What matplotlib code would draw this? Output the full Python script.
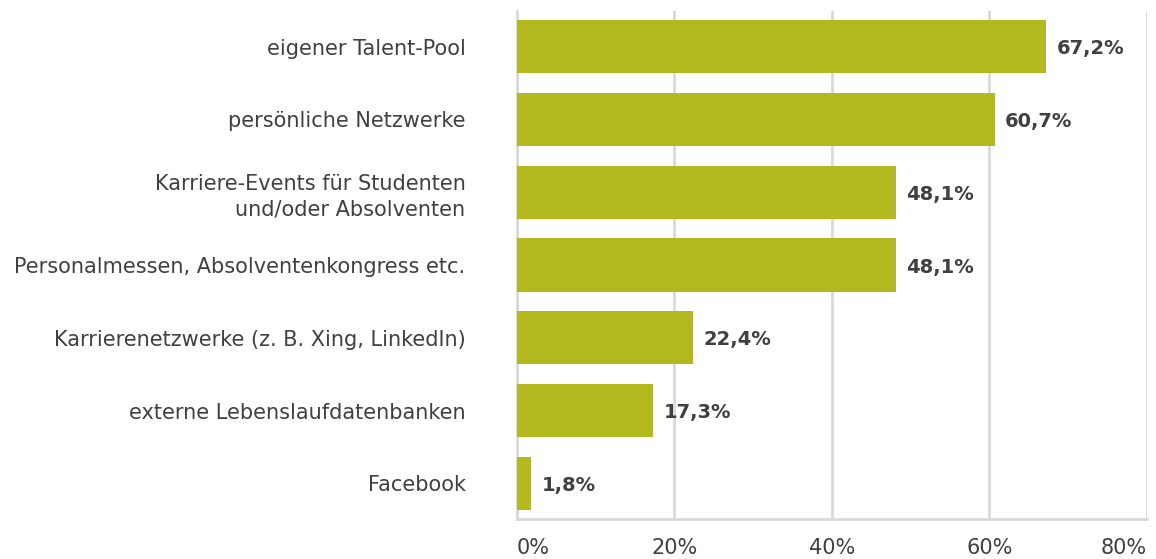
import matplotlib.pyplot as plt

categories = [
    "eigener Talent-Pool",
    "persönliche Netzwerke",
    "Karriere-Events für Studenten\nund/oder Absolventen",
    "Personalmessen, Absolventenkongress etc.",
    "Karrierenetzwerke (z. B. Xing, LinkedIn)",
    "externe Lebenslaufdatenbanken",
    "Facebook",
]
values = [67.2, 60.7, 48.1, 48.1, 22.4, 17.3, 1.8]
ticks = [0, 20, 40, 60, 80]

plt.rcParams['font.family'] = ['DejaVu Sans']
text_color = '#404040'
bar_color = '#B2BA1F'
grid_color = '#D9D9D9'

fig = plt.figure(figsize=(11.56, 5.59), dpi=100)
ax = fig.add_axes([0.4472, 0.0716, 0.5450, 0.9087])

pos = list(range(len(categories)))
ax.barh(pos, values, height=0.73, color=bar_color, zorder=3)
for p, v in zip(pos, values):
    ax.text(v + 1.3, p + 0.03, f"{v:.1f}%".replace('.', ','), va='center', ha='left',
            fontsize=14, fontweight='bold', color=text_color)

ax.set_xlim(0, 80)
ax.set_ylim(len(categories) - 0.51, -0.49)
ax.set_yticks(pos)
ax.set_yticklabels(categories, fontsize=15, color=text_color, linespacing=1.3)
ax.set_xticks(ticks)
ax.set_xticklabels([f"{t}%" for t in ticks], fontsize=15, color=text_color)
xl = ax.get_xticklabels()
xl[-1].set_horizontalalignment('right')
xl[0].set_horizontalalignment('left')
xl[0].set_x(0)
ax.tick_params(axis='both', length=0)
ax.tick_params(axis='y', pad=37)
ax.tick_params(axis='x', pad=14)
ax.xaxis.grid(True, color=grid_color, linewidth=2, zorder=0)
for s in ['top', 'right']:
    ax.spines[s].set_visible(False)
for s in ['left', 'bottom']:
    ax.spines[s].set_color(grid_color)
    ax.spines[s].set_linewidth(2)

fig.savefig('out.png', dpi=100)
